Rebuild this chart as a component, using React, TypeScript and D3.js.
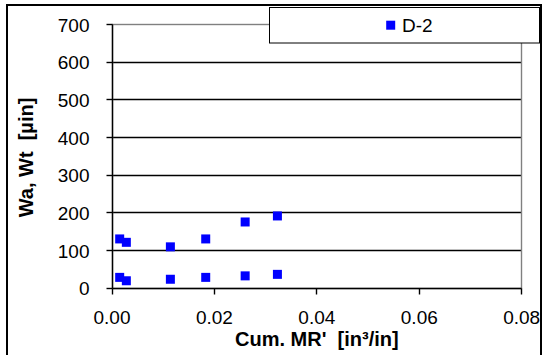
import React from "react";
import * as d3 from "d3";

// Cumulative material removal [in³/in] at each measurement
const cumMR = [0.0015, 0.0028, 0.0114, 0.0183, 0.026, 0.0323];
// Waviness values [µin] for specimen D-2
const wt = [131, 122, 110, 131, 176, 192];
const wa = [29, 20, 24, 29, 33, 37];

const yTicks = [0, 100, 200, 300, 400, 500, 600, 700];
const xTicks = [0, 0.02, 0.04, 0.06, 0.08];
const seriesName = "D-2";

const W = 543;
const H = 355;
const FONT = "'Liberation Sans', Arial, sans-serif";

// snap a coordinate to the pixel grid so lines stay sharp
const crisp = (v: number) => Math.floor(v) + 0.5;

export default function App() {
  const x = d3.scaleLinear().domain([0, 0.08]).range([112, 521.7]);
  const y = d3.scaleLinear().domain([0, 700]).range([288.3, 24.5]);
  const fmtX = d3.format(".2f");
  const ms = 9;
  const lw = 1.4;

  const points = [
    ...cumMR.map((m, i) => ({ m, v: wt[i] })),
    ...cumMR.map((m, i) => ({ m, v: wa[i] })),
  ];

  const px0 = crisp(x.range()[0]);
  const px1 = crisp(x.range()[1]);
  const py0 = crisp(y.range()[0]);
  const py1 = crisp(y.range()[1]);

  return (
    <svg
      width={W}
      height={H}
      style={{ position: "absolute", left: 0, top: 0, background: "#fff" }}
      fontFamily={FONT}
    >
      <rect x={0} y={0} width={W} height={H} fill="#fff" />
      {/* outer chart frame */}
      <rect x={7} y={5} width={534} height={352} fill="none" stroke="#000" strokeWidth={2} />

      {/* horizontal gridlines */}
      {yTicks.filter((t) => t > 0 && t < 700).map((t) => (
        <line key={`g${t}`} x1={px0} x2={px1} y1={crisp(y(t))} y2={crisp(y(t))} stroke="#000" strokeWidth={lw} />
      ))}
      {/* plot area border */}
      <rect x={px0} y={py1} width={px1 - px0} height={py0 - py1} fill="none" stroke="#808080" strokeWidth={lw} />

      {/* axes */}
      <line x1={px0} x2={px0} y1={py1} y2={py0} stroke="#000" strokeWidth={lw} />
      <line x1={px0} x2={px1} y1={py0} y2={py0} stroke="#000" strokeWidth={lw} />

      {/* y ticks and labels */}
      {yTicks.map((t) => (
        <g key={`y${t}`}>
          <line x1={px0 - 6} x2={px0} y1={crisp(y(t))} y2={crisp(y(t))} stroke="#000" strokeWidth={lw} />
          <text x={89.5} y={y(t) + 7} textAnchor="end" fontSize={19} fill="#000">
            {t}
          </text>
        </g>
      ))}

      {/* x ticks and labels */}
      {xTicks.map((t) => (
        <g key={`x${t}`}>
          <line x1={crisp(x(t))} x2={crisp(x(t))} y1={py0} y2={py0 + 6} stroke="#000" strokeWidth={lw} />
          <text x={x(t)} y={324} textAnchor="middle" fontSize={19} fill="#000">
            {fmtX(t)}
          </text>
        </g>
      ))}

      {/* axis titles */}
      <text
        x={(x.range()[0] + x.range()[1]) / 2}
        y={346}
        textAnchor="middle"
        fontSize={20}
        fontWeight="bold"
        fill="#000"
        style={{ whiteSpace: "pre" }}
      >
        {"Cum. MR'  [in³/in]"}
      </text>
      <text
        transform={`translate(33,157.5) rotate(-90)`}
        textAnchor="middle"
        fontSize={20}
        fontWeight="bold"
        fill="#000"
        style={{ whiteSpace: "pre" }}
      >
        {"Wa, Wt  [µin]"}
      </text>

      {/* data markers */}
      {points.map((p, i) => (
        <rect
          key={`p${i}`}
          x={x(p.m) - ms / 2}
          y={y(p.v) - ms / 2}
          width={ms}
          height={ms}
          fill="#0000ff"
        />
      ))}

      {/* legend */}
      <rect x={269.5} y={7.5} width={270} height={35.5} fill="#fff" stroke="#000" strokeWidth={1} />
      <rect x={386.2} y={20.7} width={ms} height={ms} fill="#0000ff" />
      <text x={402} y={31.7} fontSize={19} fill="#000">
        {seriesName}
      </text>
    </svg>
  );
}
